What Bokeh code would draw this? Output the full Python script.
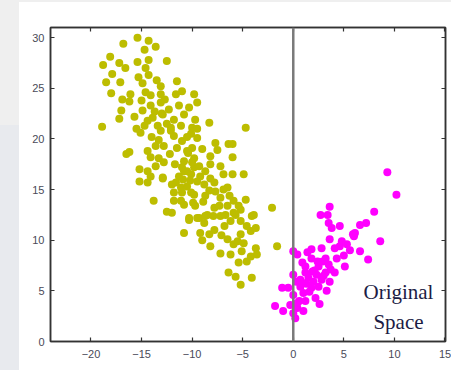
from bokeh.plotting import figure
from bokeh.models import Range1d, FixedTicker, LinearAxis, Span, Label
from bokeh.embed import file_html
from bokeh.resources import INLINE

# ---- data ----
yellow_x = [-16.8, -15.4, -14.3, -13.6, -14.7, -18.1, -18.8, -17.2, -16.6, -15.4, -14.3, -12.5, -14.6,
            -17.9, -18.5, -17.1, -15.3, -14.3, -14.9, -13.5, -11.5, -13.1, -18.0, -16.9, -16.1, -16.2,
            -14.6, -14.1, -15.0, -13.1, -11.6, -11.0, -9.8, -17.0, -17.2, -15.7, -14.9, -14.1, -13.1,
            -12.3, -11.3, -10.3, -9.5, -13.9, -12.9, -11.8, -10.8, -9.7, -18.9, -14.7, -13.4, -12.1,
            -11.1, -10.0, -15.1, -13.1, -12.1, -10.1, -9.5, -16.2, -16.5, -14.4, -13.6, -12.8, -11.5,
            -10.5, -14.1, -13.6, -15.2, -14.4, -15.2, -14.4, -14.1, -12.9, -12.0, -11.3, -10.5, -9.8,
            -10.8, -9.8, -11.1, -10.1, -11.8, -13.8, -11.8, -11.1, -9.7, -12.5, -12.0, -10.3, -9.5,
            -4.7, -8.3, -9.5, -7.7, -6.4, -6.0, -7.5, -9.0, -10.0, -8.2, -6.0, -7.2, -8.2, -10.0,
            -10.8, -10.1, -9.2, -6.9, -6.0, -4.9, -12.9, -11.6, -10.5, -8.8, -7.8, -6.5, -11.0, -9.8,
            -8.7, -7.2, -5.9, -4.7, -7.8, -6.5, -5.2, -2.1, -8.5, -7.2, -5.9, -4.1, -10.8, -5.4,
            -10.3, -9.3, -8.7, -7.9, -6.7, -5.7, -3.9, -8.8, -6.2, -10.8, -9.2, -8.3, -7.1, -5.2,
            -4.2, -9.0, -8.2, -5.9, -4.9, -3.7, -1.6, -7.2, -6.2, -5.1, -3.6, -5.4, -4.6, -4.2,
            -6.4, -5.7, -4.1, -5.2,
            -13.0, -12.5, -11.8, -11.0, -10.5, -12.2, -11.7, -11.0, -10.4, -9.3, -8.7, -9.5, -8.2,
            -7.7, -8.9, -7.3, -6.8, -7.8, -6.5, -5.5, -12.7, -13.7, -14.4, -15.5, -14.0, -13.3,
            -12.8, -13.3, -10.9, -10.2, -9.9, -8.3, -6.9, -6.3, -5.2, -4.6, -3.7]
yellow_y = [29.4, 30.0, 29.7, 29.1, 28.8, 28.1, 27.3, 27.5, 27.0, 27.6, 27.8, 27.7, 27.0,
            26.4, 25.6, 25.6, 26.1, 26.3, 25.5, 25.8, 25.7, 25.2, 24.5, 23.9, 24.4, 23.7,
            24.6, 24.3, 23.8, 24.4, 24.4, 24.7, 24.4, 22.8, 22.0, 22.2, 22.8, 23.3, 23.6,
            22.9, 23.3, 23.1, 23.6, 22.1, 22.4, 21.9, 22.4, 21.9, 21.2, 21.3, 21.3, 21.1,
            21.3, 21.1, 20.6, 20.8, 20.8, 20.5, 20.1, 18.7, 18.5, 18.8, 19.3, 19.3, 19.1,
            18.8, 18.2, 17.3, 17.0, 16.8, 15.8, 15.7, 16.3, 16.1, 15.5, 16.3, 16.8, 17.2,
            17.8, 18.1, 15.2, 14.7, 14.7, 13.9, 13.9, 13.9, 13.4, 12.8, 12.7, 12.2, 12.2,
            21.1, 21.6, 21.0, 19.6, 19.5, 19.5, 18.9, 19.0, 19.1, 18.3, 18.2, 17.3, 17.5, 17.7,
            16.8, 16.5, 16.3, 16.5, 16.5, 16.5, 16.2, 15.7, 15.3, 15.5, 15.7, 15.2, 14.7, 14.5,
            14.4, 14.2, 13.9, 14.0, 13.2, 13.4, 13.0, 13.2, 12.5, 12.4, 12.7, 12.4, 13.5, 13.4,
            12.0, 12.2, 12.4, 12.4, 12.5, 12.5, 12.5, 11.7, 11.9, 10.7, 10.7, 10.6, 10.5, 10.6,
            10.9, 10.0, 9.4, 9.6, 9.7, 9.2, 9.4, 8.7, 8.6, 8.9, 8.6, 7.8, 7.9, 8.4,
            6.8, 6.4, 6.3, 5.6,
            22.5, 21.5, 20.3, 19.8, 20.2, 18.5, 17.5, 17.2, 18.6, 17.3, 16.8, 15.8, 16.1,
            14.8, 13.8, 13.4, 11.4, 11.0, 10.1, 9.9, 23.9, 22.7, 21.8, 21.0, 20.2, 19.9,
            17.7, 18.1, 16.0, 15.9, 13.7, 14.9, 15.0, 14.4, 11.9, 11.4, 11.2]

magenta_x = [9.3, 10.2, 3.6, 2.7, 3.4, 3.5, 3.8, 4.6, 8.0, 7.2, 6.6, 5.9, 8.6, 3.6, 5.3, 4.6, 4.1,
             2.8, 1.8, 0.0, 6.6, 7.4, 1.8, 3.2, 4.3, 5.0, 0.4, 1.2, 2.5, 3.5, 5.1, 0.0, 1.2, 2.3,
             3.2, 4.1, 0.7, 2.0, 2.8, 3.6, -1.1, -0.5, 0.7, 1.8, 2.5, 3.3, 0.0, 1.0, 2.2, 0.4, 1.2,
             -1.8, -1.0, 0.0, 1.0, 0.2, 0.4, -0.3, 6.1, 6.0, 3.7, 2.1, 1.5, 0.9, 2.9, 4.8, 5.6,
             1.6, 0.6, 2.6, 1.4, 2.4, 0.9, 1.9, 3.0, 0.3, 1.3]
magenta_y = [16.7, 14.5, 13.3, 12.5, 12.5, 11.7, 11.2, 11.4, 12.8, 11.7, 11.5, 10.6, 9.9, 10.1,
             9.6, 9.4, 9.2, 9.2, 9.1, 8.9, 8.9, 8.1, 8.2, 8.2, 8.2, 8.5, 8.6, 7.4, 7.4, 7.6, 7.4,
             6.6, 6.8, 6.6, 6.8, 6.8, 6.1, 5.9, 6.1, 5.9, 5.3, 5.3, 5.4, 5.3, 5.4, 5.0, 4.6, 4.8,
             4.3, 3.8, 4.0, 3.5, 3.0, 2.8, 3.0, 2.3, 3.3, 3.6, 10.7, 10.4, 7.1, 7.0, 6.3, 5.8,
             7.9, 9.9, 9.0, 4.9, 4.0, 3.7, 8.8, 7.9, 7.8, 6.9, 6.5, 5.9, 5.7]

x_ticks = [-20, -15, -10, -5, 0, 5, 10, 15]
y_ticks = [0, 5, 10, 15, 20, 25, 30]

YELLOW = "#bdbd00"
MAGENTA = "#ff00ff"
TICK_COLOR = "#4a4a58"
FRAME = "#333333"

page_bg = ("linear-gradient(#efefef, #efefef) 0 0 / 451px 2px no-repeat, "
           "linear-gradient(#efefef, #efefef) 0 0 / 19px 125px no-repeat, "
           "linear-gradient(#e8eaee, #e8eaee) 0 125px / 19px 245px no-repeat, white")

p = figure(width=451, height=370, output_backend="svg", toolbar_location=None,
           x_range=Range1d(-24, 15.05), y_range=Range1d(0, 31),
           min_border_left=50, min_border_right=6, min_border_top=27, min_border_bottom=29,
           background_fill_color="white", border_fill_color=None,
           styles={"background": page_bg})
p.xgrid.visible = False
p.ygrid.visible = False
p.outline_line_color = FRAME
p.outline_line_width = 1.5

def style_axis(ax, ticks, labels=True):
    ax.ticker = FixedTicker(ticks=ticks)
    ax.major_tick_in = 4
    ax.major_tick_out = 0
    ax.minor_tick_line_color = None
    ax.major_tick_line_color = FRAME
    ax.major_tick_line_width = 1.2
    ax.axis_line_color = FRAME
    ax.axis_line_width = 1.5
    ax.major_label_text_font = "Liberation Sans"
    ax.major_label_text_font_size = "11px"
    ax.major_label_text_color = TICK_COLOR if labels else None
    ax.major_label_standoff = 6

style_axis(p.xaxis[0], x_ticks)
style_axis(p.yaxis[0], y_ticks)
p.xaxis[0].major_label_standoff = 8

top = LinearAxis()
style_axis(top, x_ticks, labels=False)
top.major_label_text_font_size = "0px"
top.major_label_standoff = 0
p.add_layout(top, "above")
right = LinearAxis()
style_axis(right, y_ticks, labels=False)
right.major_label_text_font_size = "0px"
right.major_label_standoff = 0
p.add_layout(right, "right")

p.add_layout(Span(location=0, dimension="height", line_color="#7a7a7a", line_width=2.5))

p.scatter(yellow_x, yellow_y, size=8, color=YELLOW, line_color=None)
p.scatter(magenta_x, magenta_y, size=8, color=MAGENTA, line_color=None)

for txt, ty in (("Original", 4.85), ("Space", 1.9)):
    p.add_layout(Label(x=10.4, y=ty, text=txt, text_align="center", text_baseline="middle",
                       text_font="Liberation Serif", text_font_size="21px", text_color="#1c1c44"))

open("out.html", "w").write(file_html(p, INLINE))
